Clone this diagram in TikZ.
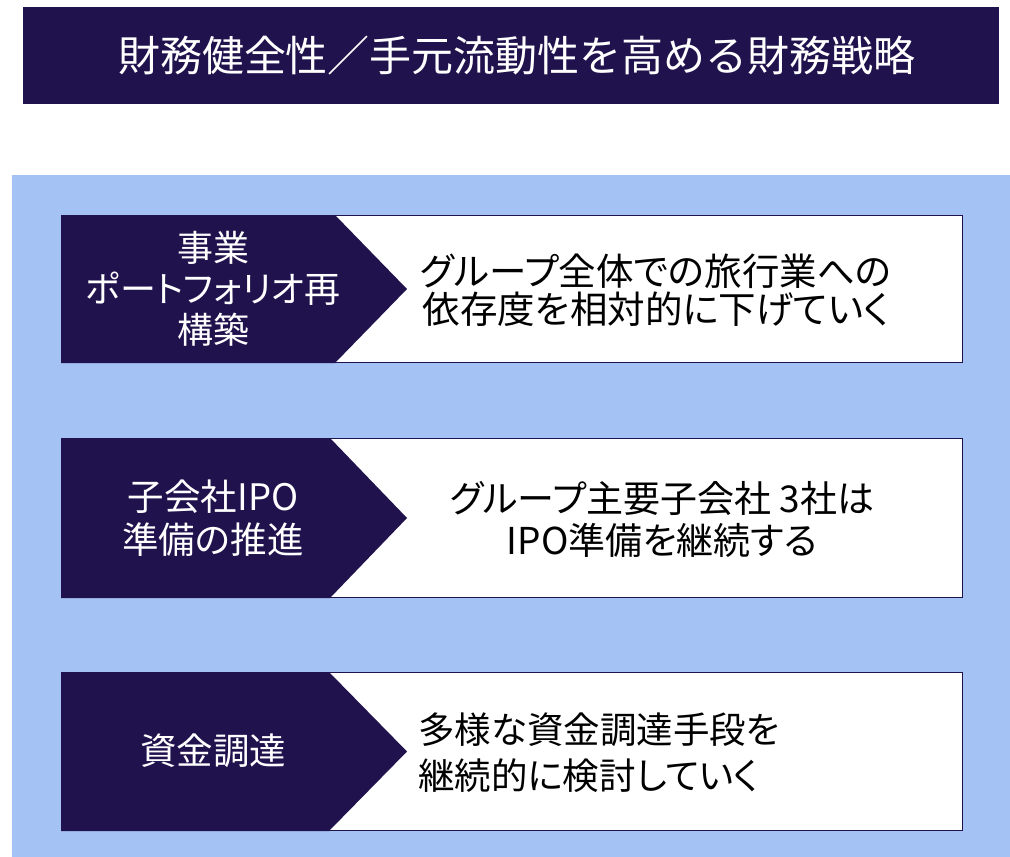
\documentclass[tikz,border=0pt]{standalone}
\usepackage{fontspec}
\setmainfont{Noto Sans CJK JP}
\newfontfamily\propfont{Noto Sans CJK JP}[RawFeature=+palt]
\usetikzlibrary{positioning, calc}
\definecolor{navy}{HTML}{20124D}
\definecolor{panelblue}{HTML}{A4C2F4}
% chevron over the left part of a card: #1 card, #2 x of the shoulder
\newcommand{\cardarrow}[2]{%
  \fill[navy] (#1.north west) -- (#2,0 |- #1.north) -- (407,0 |- #1.west)
    -- (#2,0 |- #1.south) -- (#1.south west) -- cycle;}

\begin{document}
\begin{tikzpicture}[
    x=1pt, y=-1pt,
    every node/.style={inner sep=0pt},
    titlebar/.style={fill=navy, minimum width=976pt, minimum height=97pt,
                     text=white, font=\fontsize{42}{50}\selectfont},
    card/.style={draw=navy, line width=1pt, fill=white,
                 minimum width=901pt, anchor=north west},
    tag/.style={text=white, align=center},
    body/.style={text=black, align=center}
]
\useasboundingbox (0,0) rectangle (1010,857);

% Title
\node[titlebar] (title) at (511,55.5)
    {\hspace{12pt}財務健全性／手元流動性を高める財務戦略};

% Panel
\fill[panelblue] (12,175) rectangle (1010,857);

% Cards
\node[card, minimum height=147pt] (card1) at (61,215) {};
\node[card, minimum height=159pt] (card2) at (61,438) {};
\node[card, minimum height=158pt] (card3) at (61,672) {};

\cardarrow{card1}{335}
\cardarrow{card2}{330}
\cardarrow{card3}{329}

% Row 1
\node[tag, font=\propfont\fontsize{36}{41}\selectfont] (tag1) at (213,289)
    {事業\\ポートフォリオ再\\構築};
\node[body, font=\propfont\fontsize{37.5}{38}\selectfont] (body1) at (656,290)
    {グループ全体での旅行業への\\依存度を相対的に下げていく};

% Row 2
\node[tag, font=\propfont\fontsize{36.5}{43}\selectfont] (tag2) at (213,518)
    {子会社IPO\\準備の推進};
\node[body, font=\propfont\fontsize{37}{42}\selectfont] (body2) at (662,519)
    {グループ主要子会社 3社は\\IPO準備を継続する};

% Row 3
\node[tag, font=\propfont\fontsize{36.5}{41}\selectfont] (tag3) at (213,751) {資金調達};
\node[body, align=left, anchor=west, font=\propfont\fontsize{36.5}{46}\selectfont]
    (body3) at (418,753) {多様な資金調達手段を\\継続的に検討していく};

\end{tikzpicture}
\end{document}
